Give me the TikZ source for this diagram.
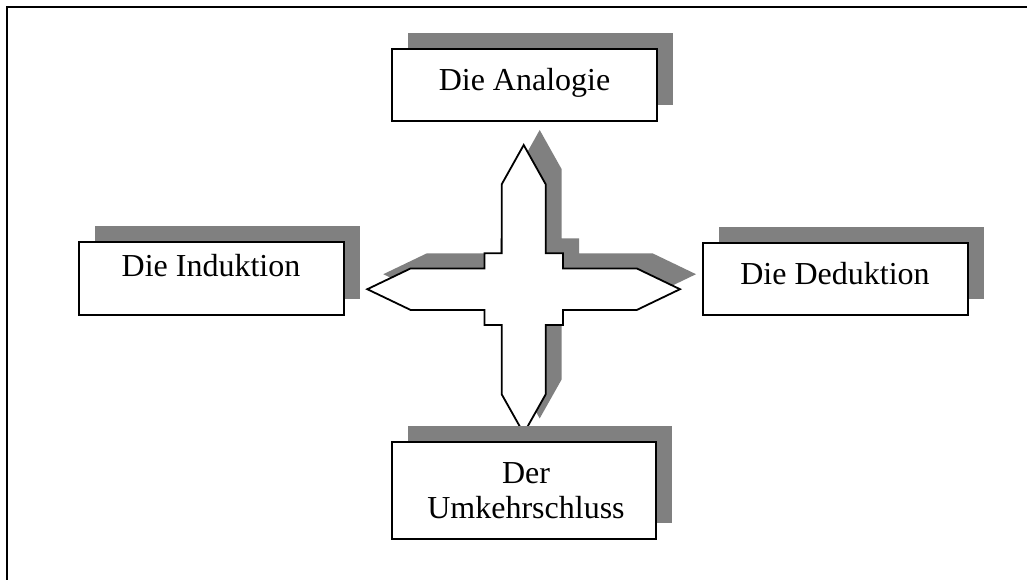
\documentclass[tikz,border=0pt]{standalone}
\usepackage{fontspec}
\setmainfont{Liberation Serif}
\usetikzlibrary{shadows}
\definecolor{shadegray}{HTML}{808080}
\begin{document}
\begin{tikzpicture}[x=1pt,y=-1pt,
  box/.style={draw=black, line width=2pt, fill=white, inner sep=0pt,
    drop shadow={shadow xshift=16pt, shadow yshift=16pt, fill=shadegray, opacity=1, draw=none}},
  label/.style={anchor=base, inner sep=0pt, font=\fontsize{32}{36}\selectfont},
  cross/.style={draw=black, line width=1.8pt, fill=white, line join=miter},
  crossshade/.style={fill=shadegray, draw=none}]
  \useasboundingbox (0,0) rectangle (1027,580);
  \fill[white] (0,0) rectangle (1027,580);

  % page frame, left and top edges
  \draw[line width=2.5pt] (7,580) -- (7,7) -- (1027,7);

  % four-pointed cross with its shade
  \def\crosspath{(523.7,145) -- (545.7,184.3) -- (545.7,253.3) -- (563,253.3) -- (563,268.4)
    -- (636.7,268.4) -- (680,289.2) -- (636.7,310) -- (563,310) -- (563,325)
    -- (545.7,325) -- (545.7,394.3) -- (523.7,433.4) -- (501.7,394.3) -- (501.7,325)
    -- (484.4,325) -- (484.4,310) -- (410.7,310) -- (367.3,289.2) -- (410.7,268.4)
    -- (484.4,268.4) -- (484.4,253.3) -- (501.7,253.3) -- (501.7,184.3) -- cycle}
  \begin{scope}[shift={(16,-15)}]
    \path[crossshade] \crosspath;
  \end{scope}
  \path[cross] \crosspath;

  % boxes
  \node[box, minimum width=265pt, minimum height=72pt] (analogie) at (524.5,85) {};
  \node[box, minimum width=265pt, minimum height=73pt] (induktion) at (211.5,278.5) {};
  \node[box, minimum width=265pt, minimum height=72pt] (deduktion) at (835.5,279) {};
  \node[box, minimum width=264pt, minimum height=97pt] (umkehr) at (524,490.5) {};

  % box texts
  \node[label] (analogietext) at (524.5,91) {Die Analogie};
  \node[label] (induktiontext) at (211,276) {Die Induktion};
  \node[label] (deduktiontext) at (835,284) {Die Deduktion};
  \node[label] (dertext) at (526,483) {Der};
  \node[label] (umkehrtext) at (526,518) {Umkehrschluss};
\end{tikzpicture}
\end{document}
